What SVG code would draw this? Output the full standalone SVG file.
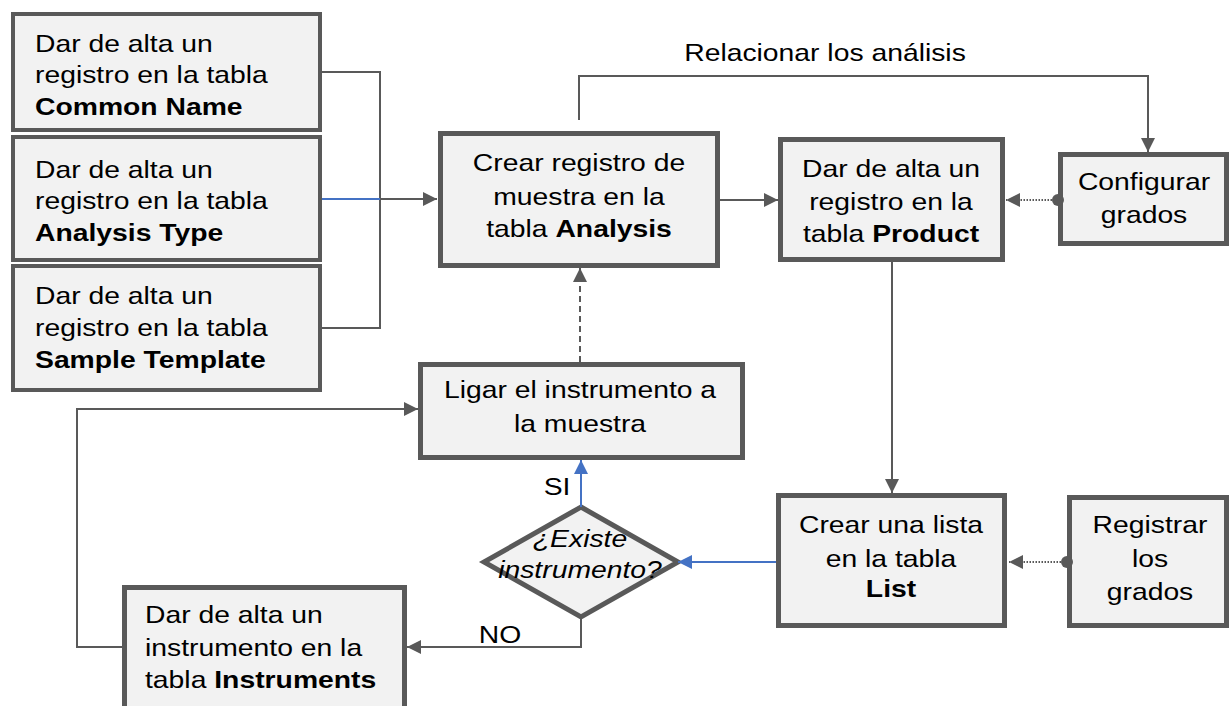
<svg xmlns="http://www.w3.org/2000/svg" width="1230" height="706" viewBox="0 0 1230 706">
<style>
.box{fill:#f2f2f2;stroke:#595959;stroke-width:4}
.bx5{fill:#f2f2f2;stroke:#595959;stroke-width:5}
.t{font-family:"Liberation Sans",Arial,sans-serif;font-size:24px;fill:#000}
.b{font-weight:bold}
.c{fill:none;stroke:#595959;stroke-width:2}
.blue{fill:none;stroke:#4472c4;stroke-width:2}
</style>
<defs>
<marker id="ag" markerUnits="userSpaceOnUse" markerWidth="16" markerHeight="16" viewBox="0 0 16 16" refX="15" refY="8" orient="auto">
<path d="M1,1 L15,8 L1,15 Z" fill="#595959"/>
</marker>
<marker id="ab" markerUnits="userSpaceOnUse" markerWidth="16" markerHeight="16" viewBox="0 0 16 16" refX="15" refY="8" orient="auto">
<path d="M1,1 L15,8 L1,15 Z" fill="#4472c4"/>
</marker>
<marker id="dot" markerUnits="userSpaceOnUse" markerWidth="14" markerHeight="14" viewBox="0 0 14 14" refX="7" refY="7" orient="auto">
<circle cx="7" cy="7" r="6" fill="#595959"/>
</marker>
</defs>

<g id="n-common-name">
<rect class="box" x="13" y="14" width="307" height="116"/>
<text class="t" transform="translate(35 0) scale(1.18 1)"><tspan x="0" y="52">Dar de alta un</tspan><tspan x="0" y="83">registro en la tabla</tspan><tspan x="0" y="115" class="b">Common Name</tspan></text>
</g>
<g id="n-analysis-type">
<rect class="box" x="13" y="137" width="307" height="123"/>
<text class="t" transform="translate(35 0) scale(1.18 1)"><tspan x="0" y="178">Dar de alta un</tspan><tspan x="0" y="209">registro en la tabla</tspan><tspan x="0" y="241" class="b">Analysis Type</tspan></text>
</g>
<g id="n-sample-template">
<rect class="box" x="13" y="266" width="307" height="124"/>
<text class="t" transform="translate(35 0) scale(1.18 1)"><tspan x="0" y="304">Dar de alta un</tspan><tspan x="0" y="336">registro en la tabla</tspan><tspan x="0" y="368" class="b">Sample Template</tspan></text>
</g>
<g id="n-analysis">
<rect class="bx5" x="440.5" y="133.5" width="277" height="132"/>
<text class="t" transform="translate(579 0) scale(1.18 1)" text-anchor="middle"><tspan x="0" y="171">Crear registro de</tspan><tspan x="0" y="205">muestra en la</tspan><tspan x="0" y="237">tabla <tspan class="b">Analysis</tspan></tspan></text>
</g>
<g id="n-product">
<rect class="bx5" x="780.5" y="139.5" width="222" height="120"/>
<text class="t" transform="translate(891 0) scale(1.18 1)" text-anchor="middle"><tspan x="0" y="177">Dar de alta un</tspan><tspan x="0" y="210">registro en la</tspan><tspan x="0" y="242">tabla <tspan class="b">Product</tspan></tspan></text>
</g>
<g id="n-configurar">
<rect class="bx5" x="1060.5" y="154.5" width="166" height="89"/>
<text class="t" transform="translate(1144 0) scale(1.18 1)" text-anchor="middle"><tspan x="0" y="190">Configurar</tspan><tspan x="0" y="223">grados</tspan></text>
</g>
<g id="n-ligar">
<rect class="bx5" x="420.5" y="364.5" width="322" height="93"/>
<text class="t" transform="translate(580 0) scale(1.18 1)" text-anchor="middle"><tspan x="0" y="398">Ligar el instrumento a</tspan><tspan x="0" y="432">la muestra</tspan></text>
</g>
<g id="n-existe">
<polygon class="bx5" points="581,507 678,562 581,617 484,562"/>
<text class="t" font-style="italic" transform="translate(580 0) scale(1.18 1)" text-anchor="middle"><tspan x="0" y="547">¿Existe</tspan><tspan x="0" y="578">instrumento?</tspan></text>
</g>
<g id="n-list">
<rect class="bx5" x="778.5" y="495.5" width="226" height="130"/>
<text class="t" transform="translate(891 0) scale(1.18 1)" text-anchor="middle"><tspan x="0" y="533">Crear una lista</tspan><tspan x="0" y="567">en la tabla</tspan><tspan x="0" y="597" class="b">List</tspan></text>
</g>
<g id="n-registrar">
<rect class="bx5" x="1069.5" y="497.5" width="157" height="128"/>
<text class="t" transform="translate(1150 0) scale(1.18 1)" text-anchor="middle"><tspan x="0" y="533">Registrar</tspan><tspan x="0" y="567">los</tspan><tspan x="0" y="600">grados</tspan></text>
</g>
<g id="n-instruments">
<rect class="bx5" x="124.5" y="587.5" width="280" height="130"/>
<text class="t" transform="translate(145 0) scale(1.18 1)"><tspan x="0" y="623">Dar de alta un</tspan><tspan x="0" y="656">instrumento en la</tspan><tspan x="0" y="688">tabla <tspan class="b">Instruments</tspan></tspan></text>
</g>

<g id="connectors">
<path class="c" d="M322,72 H380 V328 H322"/>
<path class="blue" d="M322,199 H380"/>
<path class="c" d="M380,199 H437" marker-end="url(#ag)"/>
<path class="c" d="M720,200 H778" marker-end="url(#ag)"/>
<path class="c" d="M1058,200 H1006" stroke-dasharray="1.5 1.5" marker-start="url(#dot)" marker-end="url(#ag)"/>
<path class="c" d="M579,120 V76 H1148 V152" marker-end="url(#ag)"/>
<path class="c" d="M892,262 V493" marker-end="url(#ag)"/>
<path class="blue" d="M776,562 H678" marker-end="url(#ab)"/>
<path class="c" d="M1067,562 H1009" stroke-dasharray="1.5 1.5" marker-start="url(#dot)" marker-end="url(#ag)"/>
<path class="blue" d="M581,507 V460" marker-end="url(#ab)"/>
<path class="c" d="M581,617 V647 H407" marker-end="url(#ag)"/>
<path class="c" d="M122,647 H77 V409 H418" marker-end="url(#ag)"/>
<path class="c" d="M580,362 V268" stroke-dasharray="6 4" marker-end="url(#ag)"/>
<text class="t" transform="translate(825 0) scale(1.18 1)" text-anchor="middle" y="61">Relacionar los análisis</text>
<text class="t" transform="translate(557 0) scale(1.18 1)" text-anchor="middle" y="495">SI</text>
<text class="t" transform="translate(500 0) scale(1.18 1)" text-anchor="middle" y="643">NO</text>
</g>
</svg>
